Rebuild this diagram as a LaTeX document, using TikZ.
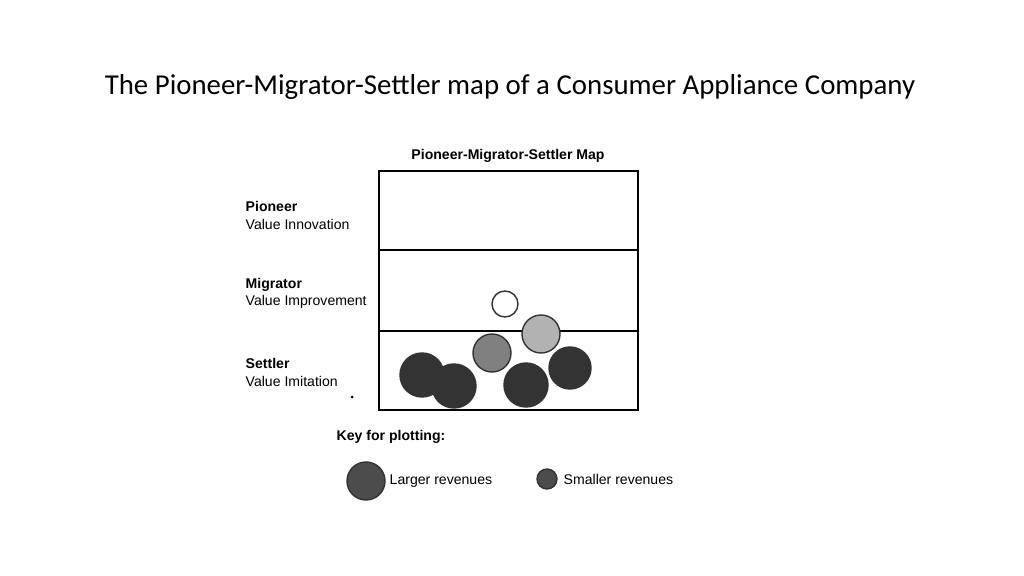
\documentclass[tikz,border=0pt]{standalone}
\usepackage{fontspec}
\setmainfont{Carlito}
\newfontfamily\labelfont{Liberation Sans}
\usetikzlibrary{calc}
\tikzset{
  lbl/.style={anchor=west,inner sep=0pt,font=\labelfont\fontsize{4}{5}\selectfont},
  lblb/.style={lbl,font=\labelfont\bfseries\fontsize{4}{5}\selectfont},
  dot/.style={circle,draw=black!80,line width=0.4pt,inner sep=0pt}
}
\begin{document}
\begin{tikzpicture}[x=0.01cm,y=-0.01cm]
\useasboundingbox (0,0) rectangle (1024,576);
\node (title) at (510,87) {\fontsize{8.2}{10}\selectfont The Pioneer-Migrator-Settler map of a Consumer Appliance Company};
\node (head) at (508,156) [font=\labelfont\bfseries\fontsize{4}{5}\selectfont] {Pioneer-Migrator-Settler Map};
\draw[line width=0.5pt] (379,171) rectangle (638,410);
\draw[line width=0.5pt] (379,250) -- (638,250);
\draw[line width=0.5pt] (379,331) -- (638,331);
\node[lblb] (p1) at (245,206) {Pioneer};
\node[lbl] (p2) at (245,224) {Value Innovation};
\node[lblb] (m1) at (245,285) {Migrator};
\node[lbl] (m2) at (245,302) {Value Improvement};
\node[lblb] (s1) at (245,363) {Settler};
\node[lbl] (s2) at (245,381) {Value Imitation};
\fill (352,397) circle (1.5);
% plotted firms
\node[dot,fill=white,minimum size=0.26cm] (c1) at (505,304) {};
\node[dot,fill=black!30,minimum size=0.38cm] (c2) at (541,334) {};
\node[dot,fill=black!50,minimum size=0.38cm] (c3) at (492,353) {};
\node[dot,fill=black!80,minimum size=0.44cm] (c4) at (422,375) {};
\node[dot,fill=black!80,minimum size=0.44cm] (c5) at (454,386) {};
\node[dot,fill=black!80,minimum size=0.44cm] (c6) at (526,385) {};
\node[dot,fill=black!80,minimum size=0.42cm] (c7) at (570,368) {};
% key
\node[lblb] (key) at (336,437) {Key for plotting:};
\node[dot,fill=black!70,minimum size=0.38cm] (k1) at (366,481) {};
\node[lbl] (k1t) at (389,481) {Larger revenues};
\node[dot,fill=black!70,minimum size=0.2cm] (k2) at (547,479) {};
\node[lbl] (k2t) at (563,479) {Smaller revenues};
\end{tikzpicture}
\end{document}
